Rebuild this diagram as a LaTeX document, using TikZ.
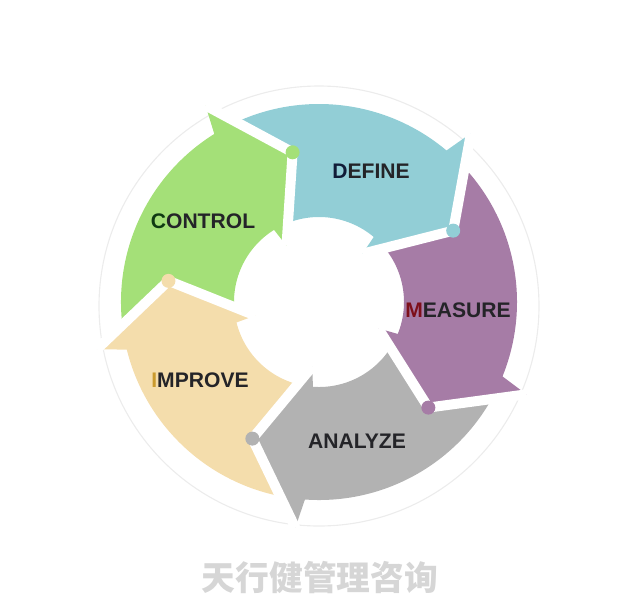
\documentclass[tikz,border=0pt]{standalone}
\usepackage{fontspec}
\usepackage{tikz}
\newfontfamily\stagefont{Liberation Sans}
\newfontfamily\cjk{Noto Sans CJK SC}
\definecolor{defteal}{RGB}{146,206,214}
\definecolor{meapurple}{RGB}{166,124,166}
\definecolor{anagray}{RGB}{178,178,178}
\definecolor{imptan}{RGB}{244,221,172}
\definecolor{ctrlgreen}{RGB}{164,224,120}
\definecolor{ringgray}{RGB}{236,236,236}
\definecolor{markgray}{RGB}{214,214,214}
\definecolor{defink}{RGB}{16,28,56}
\definecolor{meaink}{RGB}{125,15,26}
\definecolor{impink}{RGB}{201,154,46}
\definecolor{ctrlink}{RGB}{15,58,18}
\definecolor{wordink}{RGB}{36,36,40}
\newcommand{\cycleScale}[0]{0.025}
\newcommand{\stageBody}[2]{%
  \pgfmathsetmacro{\angA}{#1+19}\pgfmathsetmacro{\angB}{#1+92}%
  \fill[#2] (\angA:198) arc[start angle=\angA, end angle=\angB, radius=198]
    -- (\angB:85) arc[start angle=\angB, end angle=\angA, radius=85] -- cycle;}
\newcommand{\stageHead}[2]{%
  \pgfmathsetmacro{\angA}{#1+20}\pgfmathsetmacro{\angC}{#1+22}%
  \fill[#2] (\angA:227) -- (#1:152) -- (\angA:65) -- (\angC:86) -- (\angC:197) -- cycle;
  \draw[stage gap] (\angA:227) -- (#1:152) -- (\angA:65);
  \fill[#2] (#1:152) circle (7);}

\begin{document}
\begin{tikzpicture}[scale=\cycleScale]
  \tikzset{stage gap/.style={white,line width=0.25cm},
    stage label/.style={font=\stagefont\bfseries\fontsize{15}{18}\selectfont,text=wordink}}
  \useasboundingbox (-319,-296) rectangle (321,302);
  \draw[ringgray,line width=0.8pt] (0,-4) circle (220);
  \stageBody{100}{ctrlgreen}
  \stageBody{28}{defteal}
  \stageBody{-44}{meapurple}
  \stageBody{-116}{anagray}
  \stageBody{-188}{imptan}
  \stageHead{100}{ctrlgreen}
  \stageHead{28}{defteal}
  \stageHead{-44}{meapurple}
  \stageHead{-116}{anagray}
  \stageHead{-188}{imptan}
  \node[stage label](DEF-1) at (52,131) {\textcolor{defink}{D}EFINE};
  \node[stage label](MEA-1) at (139,-8) {\textcolor{meaink}{M}EASURE};
  \node[stage label](ANA-1) at (38,-139) {ANALYZE};
  \node[stage label](IMP-1) at (-119,-78) {\textcolor{impink}{I}MPROVE};
  \node[stage label](CTRL-1) at (-116,81) {\textcolor{ctrlink}{C}ONTROL};
  \node[font=\cjk\bfseries\fontsize{24}{28}\selectfont,text=markgray](MARK-1) at (1,-276) {天行健管理咨询};
\end{tikzpicture}
\end{document}
